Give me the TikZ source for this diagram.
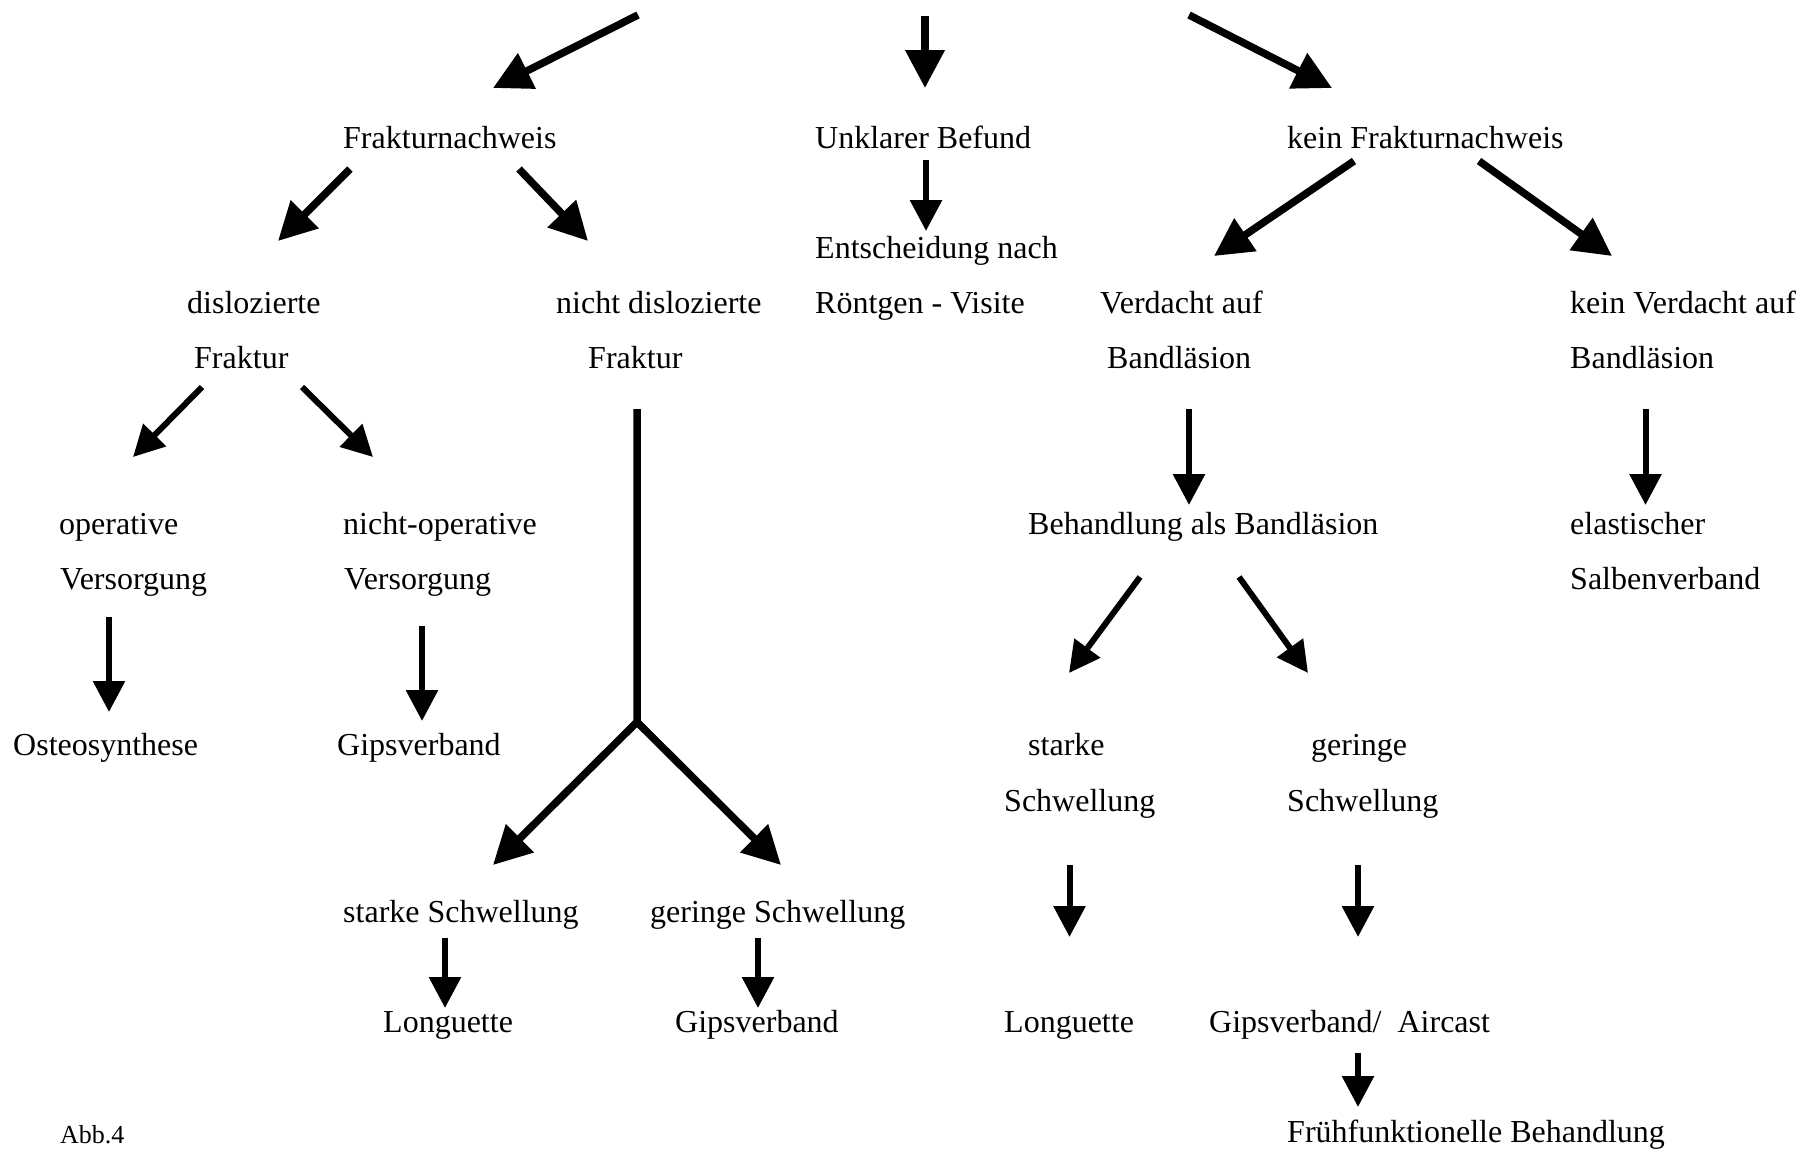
\documentclass[tikz,border=0pt]{standalone}
\usepackage{fontspec}
\setmainfont{Liberation Serif}
\usetikzlibrary{arrows.meta}
\tikzset{
  lbl/.style={anchor=base west, inner sep=0pt, font=\fontsize{32}{38}\selectfont},
  small/.style={anchor=base west, inner sep=0pt, font=\fontsize{26}{31}\selectfont},
  thickarr/.style={line width=7.5pt, line cap=butt, -{Triangle[length=38pt,width=38pt]}},
  thinarr/.style={line width=6pt, line cap=butt, -{Triangle[length=31pt,width=31pt]}},
}
\begin{document}
\begin{tikzpicture}[x=1pt,y=-1pt]
\useasboundingbox (0,0) rectangle (1806,1149);
% row 1
\node[lbl] (n1) at (343,148) {Frakturnachweis};
\node[lbl] (n2) at (815,148) {Unklarer Befund};
\node[lbl] (n3) at (1287,148) {kein Frakturnachweis};
% rows 2-4
\node[lbl] (n4) at (815,258) {Entscheidung nach};
\node[lbl] (n5) at (815,313) {Röntgen - Visite};
\node[lbl] (n6) at (187,313) {dislozierte};
\node[lbl] (n7) at (194,368) {Fraktur};
\node[lbl] (n8) at (556,313) {nicht dislozierte};
\node[lbl] (n9) at (588,368) {Fraktur};
\node[lbl] (n10) at (1100,313) {Verdacht auf};
\node[lbl] (n11) at (1107,368) {Bandläsion};
\node[lbl] (n12) at (1570,313) {kein Verdacht auf};
\node[lbl] (n13) at (1570,368) {Bandläsion};
% rows 5-6
\node[lbl] (n14) at (59,534) {operative};
\node[lbl] (n15) at (60,589) {Versorgung};
\node[lbl] (n16) at (343,534) {nicht-operative};
\node[lbl] (n17) at (344,589) {Versorgung};
\node[lbl] (n18) at (1028,534) {Behandlung als Bandläsion};
\node[lbl] (n19) at (1570,534) {elastischer};
\node[lbl] (n20) at (1570,589) {Salbenverband};
% rows 7-8
\node[lbl] (n21) at (13,755) {Osteosynthese};
\node[lbl] (n22) at (337,755) {Gipsverband};
\node[lbl] (n23) at (1028,755) {starke};
\node[lbl] (n24) at (1311,755) {geringe};
\node[lbl] (n25) at (1004,811) {Schwellung};
\node[lbl] (n26) at (1287,811) {Schwellung};
% rows 9-11
\node[lbl] (n27) at (343,922) {starke Schwellung};
\node[lbl] (n28) at (650,922) {geringe Schwellung};
\node[lbl] (n29) at (383,1032) {Longuette};
\node[lbl] (n30) at (675,1032) {Gipsverband};
\node[lbl] (n31) at (1004,1032) {Longuette};
\node[lbl] (n32) at (1209,1032) {Gipsverband/\ \ Aircast};
\node[lbl] (n33) at (1287,1142) {Frühfunktionelle Behandlung};
\node[small] (n34) at (60,1143) {Abb.4};
% free starts of the top arrows
\coordinate (top1) at (638,15);
\coordinate (top2) at (925,16);
\coordinate (top3) at (1189,15);
\coordinate (split) at (637,722);
% thick arrows
\draw[thickarr] (top1) -- ([shift={(150,-60)}]n1.base west);
\draw[thickarr] (top2) -- ([shift={(110,-60)}]n2.base west);
\draw[thickarr] (top3) -- ([shift={(45,-60)}]n3.base west);
\draw[thickarr] ([shift={(7,21)}]n1.base west) -- ([shift={(91,-72)}]n6.base west);
\draw[thickarr] ([shift={(176,21)}]n1.base west) -- ([shift={(32,-72)}]n8.base west);
\draw[thickarr] ([shift={(67,13)}]n3.base west) -- ([shift={(114,-57)}]n10.base west);
\draw[thickarr] ([shift={(192,13)}]n3.base west) -- ([shift={(42,-57)}]n12.base west);
\draw[thickarr] ([shift={(49,41)}]n9.base west) -- (split) -- ([shift={(150,-57)}]n27.base west);
\draw[thickarr] (split) -- ([shift={(131,-57)}]n28.base west);
% thin arrows
\draw[thinarr] ([shift={(111,12)}]n2.base west) -- ([shift={(111,-27)}]n4.base west);
\draw[thinarr] ([shift={(8,19)}]n7.base west) -- ([shift={(74,-77)}]n14.base west);
\draw[thinarr] ([shift={(108,19)}]n7.base west) -- ([shift={(30,-77)}]n16.base west);
\draw[thinarr] ([shift={(82,41)}]n11.base west) -- ([shift={(161,-29)}]n18.base west);
\draw[thinarr] ([shift={(75.5,41)}]n13.base west) -- ([shift={(75.5,-29)}]n19.base west);
\draw[thinarr] ([shift={(112,43)}]n18.base west) -- ([shift={(41,-82)}]n23.base west);
\draw[thinarr] ([shift={(211,43)}]n18.base west) -- ([shift={(-3,-82)}]n24.base west);
\draw[thinarr] ([shift={(49,28)}]n15.base west) -- ([shift={(96,-43)}]n21.base west);
\draw[thinarr] ([shift={(78,37)}]n17.base west) -- ([shift={(85,-34)}]n22.base west);
\draw[thinarr] ([shift={(102,16)}]n27.base west) -- ([shift={(62,-24)}]n29.base west);
\draw[thinarr] ([shift={(108,16)}]n28.base west) -- ([shift={(83,-24)}]n30.base west);
\draw[thinarr] ([shift={(65.5,54)}]n25.base west) -- ([shift={(65.5,-95)}]n31.base west);
\draw[thinarr] ([shift={(71,54)}]n26.base west) -- ([shift={(149,-95)}]n32.base west);
\draw[thinarr] ([shift={(149,21)}]n32.base west) -- ([shift={(71,-35)}]n33.base west);
\end{tikzpicture}
\end{document}
